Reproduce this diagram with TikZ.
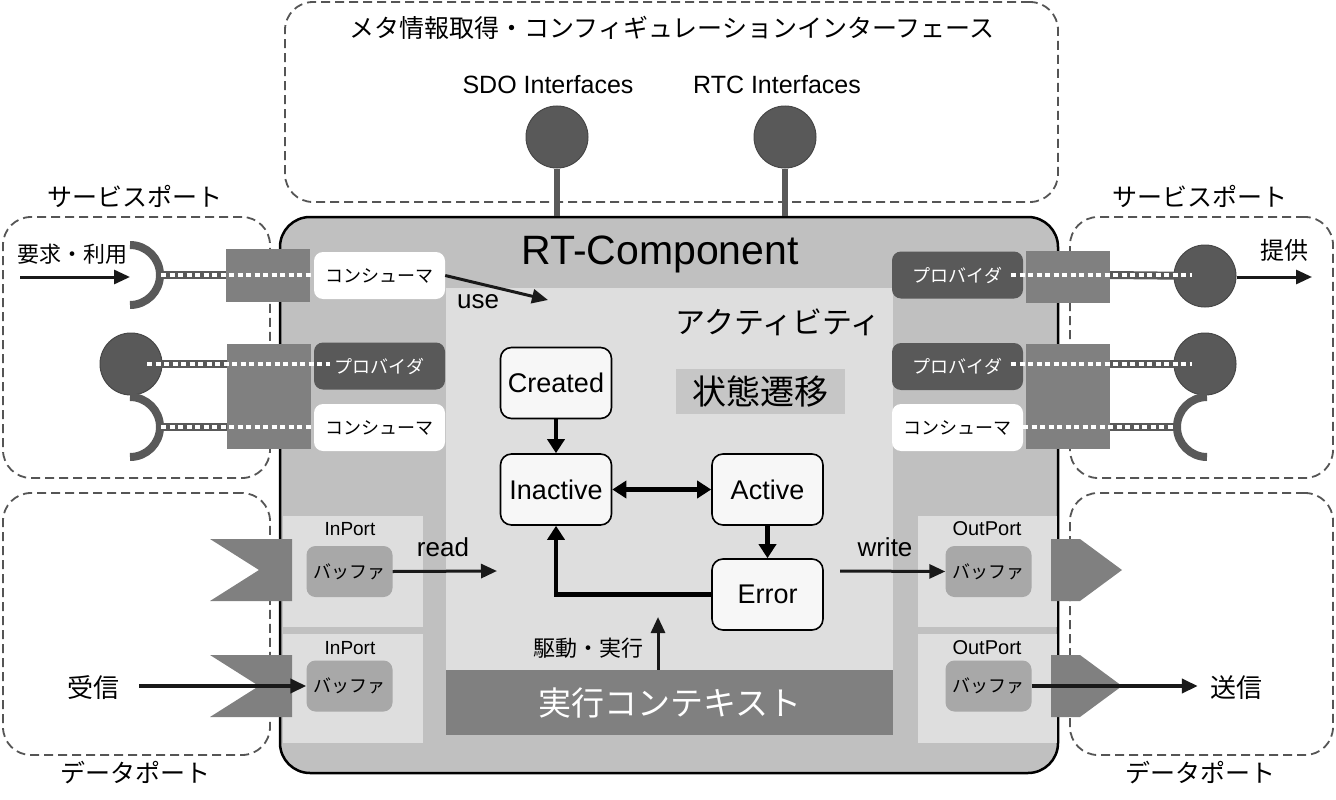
\documentclass[tikz,border=0pt]{standalone}
\usepackage{fontspec}
\setmainfont{Liberation Sans}
\newfontfamily\jp{Noto Sans CJK JP}
\usetikzlibrary{arrows.meta,calc}
\newcommand\myfs[1]{\fontsize{#1}{#1}\selectfont}
\definecolor{dk}{HTML}{595959}
\definecolor{md}{HTML}{808080}
\definecolor{rtcc}{HTML}{C0C0C0}
\definecolor{lt}{HTML}{DEDEDE}
\definecolor{bufc}{HTML}{A8A8A8}
\definecolor{st}{HTML}{F7F7F7}
\definecolor{dashc}{HTML}{555555}
\definecolor{stbg}{HTML}{C6C6C6}
\begin{document}
\begin{tikzpicture}[x=1pt,y=-1pt,
  dashbox/.style={draw=dashc,line width=1.8pt,dash pattern=on 9pt off 5pt,rounded corners=28pt,inner sep=0pt},
  lbl/.style={inner sep=0pt,font=\jp\myfs{25}},
  ball/.style={circle,fill=dk,draw=dk!80!black,line width=1pt,minimum size=62pt,inner sep=0pt},
  stem/.style={draw=dk,line width=6pt},
  portsq/.style={fill=md,inner sep=0pt,minimum width=84pt},
  cons/.style={fill=white,rounded corners=9pt,minimum width=131pt,minimum height=47pt,inner sep=0pt,font=\jp\myfs{18}},
  prov/.style={cons,fill=dk,text=white},
  wire/.style={draw=dk,line width=8pt},
  dotline/.style={draw=white,line width=4pt,dash pattern=on 5pt off 3.5pt},
  sock/.style={draw=dk,line width=8pt},
  arr/.style={draw=black!90,line width=3pt,-{Triangle[length=16pt,width=14pt]}},
  stbox/.style={fill=st,draw=black,line width=1.6pt,rounded corners=11pt,minimum width=111pt,minimum height=71pt,inner sep=0pt,font=\myfs{27}},
  sarr/.style={line width=4.5pt,-{Triangle[length=14pt,width=17pt]}},
  pbox/.style={fill=lt,minimum width=140pt,inner sep=0pt},
  bufbox/.style={fill=bufc,rounded corners=9pt,minimum width=86pt,minimum height=51pt,inner sep=0pt,font=\jp\myfs{18}},
]
\useasboundingbox (0,0) rectangle (1336,800);

% dashed groups
\node[dashbox,minimum width=773pt,minimum height=200pt] (meta) at (671.5,102) {};
\node[dashbox,minimum width=267pt,minimum height=261pt] (lsvc) at (136.5,347.5) {};
\node[dashbox,minimum width=267pt,minimum height=262pt] (ldat) at (136.5,624) {};
\node[dashbox,minimum width=263pt,minimum height=261pt] (rsvc) at (1201.5,347.5) {};
\node[dashbox,minimum width=263pt,minimum height=262pt] (rdat) at (1201.5,624) {};

\node[lbl] (metat) at (672,28) {メタ情報取得・コンフィギュレーションインターフェース};
\node[lbl] (lsvct) at (135,196) {サービスポート};
\node[lbl] (rsvct) at (1200,196) {サービスポート};
\node[lbl] (ldatt) at (135,773) {データポート};
\node[lbl] (rdatt) at (1200,773) {データポート};

% RT component
\node[fill=rtcc,draw=black,line width=2.5pt,rounded corners=30pt,minimum width=778pt,minimum height=556pt,inner sep=0pt] (rtc) at (669,495) {};
\node[fill=lt,minimum width=447pt,minimum height=447pt,inner sep=0pt] (act) at (669.5,511.5) {};
\node[fill=md,minimum width=447pt,minimum height=65pt,inner sep=0pt,text=white,font=\jp\myfs{33}] (exec) at (669.5,702.5) {実行コンテキスト};
\node[inner sep=0pt,font=\myfs{41}] (rtct) at (660,254) {RT-Component};
\node[inner sep=0pt,font=\jp\myfs{30}] (actt) at (778,322) {アクティビティ};
\node[fill=stbg,minimum width=169pt,minimum height=45pt,inner sep=0pt,font=\jp\myfs{34}] (stt) at (760.5,391.5) {状態遷移};

% SDO / RTC interfaces
\node[inner sep=0pt,font=\myfs{25}] (sdot) at (548,85) {SDO Interfaces};
\node[inner sep=0pt,font=\myfs{25}] (rtcit) at (777,85) {RTC Interfaces};
\node[ball] (sdo) at (557,137) {};
\node[ball] (rtci) at (785,137) {};
\draw[stem] (sdo.south) -- (sdo.south |- rtc.north);
\draw[stem] (rtci.south) -- (rtci.south |- rtc.north);

% states
\node[stbox] (cre) at (556,383) {Created};
\node[stbox] (ina) at (556,489.5) {Inactive};
\node[stbox] (acv) at (767.5,489.5) {Active};
\node[stbox] (err) at (767.5,594.5) {Error};
\draw[sarr] (cre.south) -- (ina.north);
\draw[sarr,{Triangle[length=14pt,width=17pt]}-{Triangle[length=14pt,width=17pt]}] (ina.east) -- (acv.west);
\draw[sarr] (acv.south) -- (err.north);
\draw[sarr] (err.west) -| (ina.south);

% drive
\node[inner sep=0pt,font=\jp\myfs{22}] (drvt) at (588,648) {駆動・実行};
\coordinate (drv) at (658,617);
\draw[arr] (drv |- exec.north) -- (drv);

% ---------- service ports, left ----------
\coordinate (sk1) at (130,275);
\coordinate (sk2) at (130,427);
\node[ball] (lb) at (131,364) {};
\draw[sock] (130,245) arc[start angle=-90,end angle=90,radius=30];
\draw[sock] (130,397) arc[start angle=-90,end angle=90,radius=30];
\draw[wire] ($(sk1)+(30,0)$) -- (226,275);
\draw[wire] (lb.center) -- (227,364);
\draw[wire] ($(sk2)+(30,0)$) -- (227,427);
\node[portsq,minimum height=53pt] (lps1) at (268,275.5) {};
\node[portsq,minimum height=105pt] (lps2) at (269,396.5) {};
\node[cons] (lc1) at (379.5,275.5) {コンシューマ};
\node[prov] (lp1) at (379.5,366) {プロバイダ};
\node[cons] (lc2) at (379.5,427.5) {コンシューマ};
\draw[dotline] ($(sk1)+(31,0)$) -- (lc1.west |- sk1);
\draw[dotline] (147,364) -- (330,364);
\draw[dotline] ($(sk2)+(31,0)$) -- (lc2.west |- sk2);
\node[inner sep=0pt,font=\jp\myfs{22}] (req) at (72,254) {要求・利用};
\coordinate (reqs) at (20,277);
\draw[arr] (reqs) -- (sk1 |- reqs);

% ---------- service ports, right ----------
\node[ball] (rb1) at (1205,276) {};
\node[ball] (rb2) at (1205,364) {};
\coordinate (rsk) at (1207,427);
\draw[sock] (1207,397) arc[start angle=270,end angle=90,radius=30];
\draw[wire] (1110,275) -- (rb1.center);
\draw[wire] (1110,364) -- (rb2.center);
\draw[wire] (1110,427) -- ($(rsk)+(-30,0)$);
\node[portsq,minimum height=52pt] (rps1) at (1068,277) {};
\node[portsq,minimum height=105pt] (rps2) at (1068,396.5) {};
\node[prov] (rp1) at (957.5,275) {プロバイダ};
\node[prov] (rp2) at (957.5,366.5) {プロバイダ};
\node[cons] (rc1) at (957.5,427.5) {コンシューマ};
\draw[dotline] (1011,275) -- (1192,275);
\draw[dotline] (1011,364) -- (1192,364);
\draw[dotline] (rc1.east |- rsk) -- ($(rsk)+(-32,0)$);
\node[inner sep=0pt,font=\jp\myfs{24}] (prv) at (1284,250) {提供};
\coordinate (prve) at (1312,277);
\draw[arr] (rb1.east |- prve) -- (prve);

% use
\coordinate (usee) at (548,300);
\draw[arr] (lc1.east) -- (usee);
\node[inner sep=0pt,font=\myfs{26}] (uset) at (478,302) {use};

% ---------- data ports, left ----------
\node[pbox,minimum height=111pt] (ip1) at (353,571.5) {};
\node[pbox,minimum height=109pt] (ip2) at (353,688.5) {};
\fill[md] (210,539) -- (292,539) -- (292,601) -- (210,601) -- (259,570) -- cycle;
\fill[md] (210,655) -- (292,655) -- (292,717) -- (210,717) -- (259,686) -- cycle;
\node[inner sep=0pt,font=\myfs{19}] (ip1t) at (350,529) {InPort};
\node[inner sep=0pt,font=\myfs{19}] (ip2t) at (350,648) {InPort};
\node[bufbox] (ib1) at (349.5,571.5) {バッファ};
\node[bufbox] (ib2) at (349.5,686) {バッファ};
\node[inner sep=0pt,font=\jp\myfs{26}] (recv) at (93,688) {受信};
\draw[arr,line width=4pt] ([xshift=20pt]recv.east |- ib2.west) -- (ib2.west);
\coordinate (rde) at (497,571);
\draw[arr] (ib1.east) -- (rde);
\node[inner sep=0pt,font=\myfs{26}] (rdt) at (443,547) {read};

% ---------- data ports, right ----------
\node[pbox,minimum width=139pt,minimum height=111pt] (op1) at (987.5,571.5) {};
\node[pbox,minimum width=139pt,minimum height=109pt] (op2) at (987.5,688.5) {};
\fill[md] (1051,539) -- (1080,539) -- (1122,570) -- (1080,601) -- (1051,601) -- cycle;
\fill[md] (1051,655) -- (1080,655) -- (1122,686) -- (1080,717) -- (1051,717) -- cycle;
\node[inner sep=0pt,font=\myfs{20}] (op1t) at (987,529) {OutPort};
\node[inner sep=0pt,font=\myfs{20}] (op2t) at (987,648) {OutPort};
\node[bufbox] (ob1) at (988.5,571.5) {バッファ};
\node[bufbox] (ob2) at (988.5,686) {バッファ};
\node[inner sep=0pt,font=\jp\myfs{26}] (send) at (1236,688) {送信};
\draw[arr,line width=4pt] (ob2.east) -- ([xshift=-12pt]send.west |- ob2.east);
\coordinate (wrs) at (840,571);
\draw[arr] (wrs) -- (ob1.west);
\node[inner sep=0pt,font=\myfs{26}] (wrt) at (885,547) {write};
\end{tikzpicture}
\end{document}
